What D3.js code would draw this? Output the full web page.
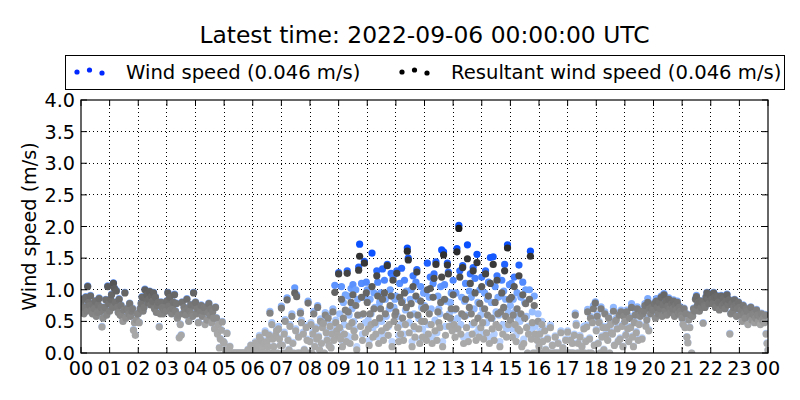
<!DOCTYPE html>
<html><head><meta charset="utf-8">
<script src="https://cdn.jsdelivr.net/npm/d3@7/dist/d3.min.js"></script>
<style>body{margin:0;background:#fff} svg{font-family:"DejaVu Sans",sans-serif;display:block}</style>
</head><body><svg id="c" width="800" height="400"></svg>
<script>
const titleText = "Latest time: 2022-09-06 00:00:00 UTC";
const yLabel = "Wind speed (m/s)";
const legendLabels = ["Wind speed (0.046 m/s)", "Resultant wind speed (0.046 m/s)"];
const hourTickLabels = ["00","01","02","03","04","05","06","07","08","09","10","11","12","13","14","15","16","17","18","19","20","21","22","23","00"];
const yTickValues = [0.0,0.5,1.0,1.5,2.0,2.5,3.0,3.5,4.0];
const sampleStepMinutes = 2;
const latestWind = 0.046, latestResultant = 0.046;

// Resultant wind speed (m/s), one row per hour, 2-minute samples
const resultantRows = [
[0.78,0.70,0.85,0.62,0.72,0.88,0.66,1.05,0.80,0.75,0.90,0.68,0.62,0.76,0.70,0.82,0.58,0.64,0.76,0.86,0.65,0.72,0.41,0.55,0.68,0.72,0.84,0.60,1.05,0.78],
[0.66,0.85,0.92,0.72,1.10,1.02,0.80,0.98,0.72,0.64,0.85,0.60,0.75,0.58,0.50,0.68,0.95,0.55,0.70,0.68,0.62,0.78,0.58,0.66,0.70,0.36,0.48,0.28,0.52,0.62],
[0.62,0.48,0.70,0.78,0.88,0.66,0.72,1.00,0.86,0.92,0.80,0.85,0.97,0.76,0.90,0.82,0.95,0.70,0.88,0.64,0.75,0.80,0.41,0.62,0.80,0.72,0.62,0.68,0.72,0.66],
[0.82,0.95,0.74,0.88,0.68,0.62,0.70,0.80,0.92,0.66,0.78,0.55,0.60,0.24,0.45,0.28,0.80,0.62,0.72,0.66,0.60,0.85,0.70,0.50,0.66,0.76,0.62,0.58,0.95,0.74],
[0.80,0.62,0.70,0.48,0.70,0.66,0.75,0.58,0.66,0.72,0.45,0.72,0.52,0.64,0.78,0.60,0.70,0.48,0.65,0.55,0.38,0.72,0.55,0.30,0.45,0.08,0.22,0.36,0.49,0.18],
[0.16,0.05,0.00,0.31,0.00,0.00,0.10,0.00,0.00,0.00,0.00,0.00,0.00,0.00,0.00,0.00,0.00,0.00,0.00,0.00,0.00,0.00,0.00,0.00,0.00,0.05,0.00,0.00,0.12,0.00],
[0.00,0.08,0.00,0.16,0.05,0.00,0.12,0.25,0.00,0.20,0.08,0.00,0.15,0.32,0.00,0.18,0.10,0.28,0.63,0.00,0.45,0.22,0.10,0.00,0.28,0.35,0.00,0.38,0.22,0.12],
[0.71,0.12,0.00,0.30,0.50,0.00,0.84,0.20,0.05,0.42,0.00,0.58,0.15,0.00,0.95,0.35,0.89,0.00,0.25,0.00,0.63,0.48,0.00,0.30,0.05,0.00,0.40,0.20,0.79,0.00],
[0.18,0.45,0.00,0.30,0.62,0.10,0.38,0.22,0.72,0.25,0.05,0.50,0.15,0.40,0.47,0.00,0.60,0.32,0.20,0.55,0.12,0.42,0.08,0.30,0.65,0.20,0.96,0.48,0.35,0.28],
[1.25,0.40,0.22,0.85,0.10,0.55,0.30,0.68,0.18,1.26,0.65,0.42,0.15,0.80,0.48,0.92,0.35,0.25,0.75,0.05,0.60,1.31,1.53,0.42,0.88,0.20,0.62,1.42,0.32,0.95],
[0.80,0.38,0.12,0.62,0.45,1.05,0.25,0.70,0.48,0.30,1.22,0.90,0.15,0.55,0.70,0.35,0.85,0.20,0.95,0.62,0.40,1.38,0.28,0.45,0.75,0.90,0.10,1.15,0.50,0.60],
[0.65,1.26,0.40,0.18,0.88,0.30,0.80,0.55,0.20,0.95,0.45,0.72,1.61,1.47,0.32,0.60,0.78,0.10,1.05,0.42,0.25,0.90,1.28,0.60,0.38,0.15,0.82,0.50,0.25,0.70],
[0.50,0.72,0.20,1.00,0.30,0.62,1.02,0.45,0.15,0.88,1.18,0.35,1.40,0.20,0.65,0.48,0.40,0.80,1.20,0.10,1.55,0.85,0.28,0.58,1.39,1.25,0.42,0.55,0.70,0.35],
[0.92,0.45,0.25,0.70,1.60,0.38,1.97,1.20,0.30,0.62,1.35,0.15,0.58,0.85,0.40,1.49,0.18,0.72,1.10,0.62,0.30,1.30,0.48,0.95,0.20,1.43,0.55,0.25,0.78,0.40],
[1.05,0.48,0.22,0.70,1.25,0.32,0.60,0.90,0.15,1.10,0.55,0.38,1.40,0.20,0.80,0.45,1.15,0.62,0.40,0.10,0.65,0.95,0.30,0.72,1.30,0.58,0.25,1.66,0.45,0.85],
[0.52,0.88,0.25,0.60,1.05,0.45,0.18,0.70,0.38,1.22,0.35,0.62,0.10,0.92,0.15,0.55,0.78,0.40,0.00,0.30,0.85,1.53,0.22,0.48,0.00,0.75,0.30,0.00,0.20,0.50],
[0.10,0.30,0.00,0.45,0.18,0.00,0.35,0.05,0.00,0.22,0.00,0.00,0.40,0.00,0.12,0.00,0.00,0.25,0.00,0.00,0.15,0.00,0.00,0.32,0.00,0.08,0.00,0.00,0.20,0.00],
[0.33,0.00,0.00,0.20,0.00,0.15,0.00,0.28,0.60,0.44,0.00,0.15,0.00,0.25,0.00,0.10,0.00,0.38,0.00,0.18,0.41,0.65,0.00,0.22,0.55,0.00,0.48,0.70,0.12,0.79],
[0.35,0.58,0.15,0.48,0.00,0.70,0.25,0.40,0.05,0.62,0.28,0.40,0.20,0.55,0.00,0.45,0.32,0.30,0.66,0.12,0.50,0.52,0.38,0.18,0.60,0.22,0.65,0.42,0.10,0.58],
[0.50,0.28,0.65,0.38,0.18,0.55,0.40,0.72,0.25,0.10,0.48,0.60,0.32,0.70,0.20,0.45,0.58,0.66,0.22,0.62,0.66,0.75,0.42,0.52,0.80,0.35,0.70,0.62,0.72,0.68],
[0.68,0.78,0.55,0.82,0.72,0.62,0.80,0.70,0.88,0.58,0.76,0.92,0.66,0.82,0.60,0.74,0.85,0.70,0.64,0.78,0.70,0.82,0.58,0.75,0.68,0.80,0.62,0.72,0.66,0.60],
[0.55,0.45,0.70,0.40,0.62,0.25,0.16,0.52,0.40,0.60,0.00,0.58,0.70,0.66,0.85,0.89,0.75,0.80,0.66,0.82,0.72,0.80,0.47,0.75,0.72,0.88,0.95,0.85,0.78,0.92],
[0.92,0.85,0.78,0.95,0.88,0.72,0.90,0.88,0.80,0.68,0.82,0.90,0.75,0.86,0.78,0.70,0.82,0.92,0.76,0.84,0.30,0.62,0.78,0.65,0.72,0.84,0.76,0.58,0.70,0.80],
[0.72,0.60,0.68,0.50,0.75,0.62,0.55,0.70,0.66,0.45,0.66,0.58,0.72,0.52,0.62,0.60,0.48,0.55,0.68,0.60,0.50,0.58,0.45,0.62,0.52,0.55,0.48,0.60,0.30,0.15]
];

// Scalar wind speed (m/s), one row per hour, 2-minute samples
const windSpeedRows = [
[0.79,0.71,0.86,0.63,0.73,0.89,0.67,1.06,0.81,0.76,0.91,0.69,0.63,0.77,0.71,0.83,0.59,0.65,0.77,0.87,0.66,0.73,0.42,0.56,0.69,0.73,0.85,0.61,1.06,0.79],
[0.67,0.86,0.93,0.73,1.11,1.03,0.81,0.99,0.73,0.65,0.86,0.61,0.76,0.59,0.51,0.69,0.96,0.56,0.71,0.69,0.63,0.79,0.59,0.67,0.71,0.37,0.49,0.29,0.53,0.63],
[0.63,0.49,0.71,0.79,0.89,0.67,0.73,1.01,0.87,0.93,0.81,0.86,0.98,0.77,0.91,0.83,0.96,0.71,0.89,0.65,0.76,0.81,0.42,0.63,0.81,0.73,0.63,0.69,0.73,0.67],
[0.83,0.96,0.75,0.89,0.69,0.63,0.71,0.81,0.93,0.67,0.79,0.56,0.61,0.25,0.46,0.29,0.81,0.63,0.73,0.67,0.61,0.86,0.71,0.51,0.67,0.77,0.63,0.59,0.96,0.75],
[0.81,0.63,0.71,0.49,0.71,0.67,0.76,0.59,0.67,0.73,0.46,0.73,0.53,0.65,0.79,0.61,0.71,0.49,0.66,0.56,0.39,0.73,0.56,0.31,0.46,0.09,0.23,0.37,0.50,0.19],
[0.17,0.06,0.00,0.32,0.00,0.00,0.11,0.00,0.00,0.00,0.00,0.00,0.00,0.00,0.00,0.00,0.00,0.00,0.00,0.00,0.00,0.00,0.00,0.00,0.00,0.06,0.00,0.00,0.13,0.00],
[0.00,0.09,0.00,0.18,0.06,0.00,0.13,0.28,0.00,0.22,0.09,0.00,0.16,0.35,0.00,0.20,0.11,0.30,0.66,0.00,0.48,0.24,0.11,0.00,0.30,0.38,0.00,0.42,0.24,0.13],
[0.74,0.13,0.00,0.33,0.53,0.00,0.87,0.22,0.06,0.45,0.00,0.62,0.17,0.00,1.03,0.38,0.92,0.00,0.27,0.00,0.66,0.52,0.00,0.33,0.06,0.00,0.43,0.22,0.82,0.00],
[0.20,0.48,0.00,0.33,0.66,0.11,0.41,0.24,0.75,0.27,0.06,0.54,0.16,0.43,0.50,0.00,0.64,0.35,0.22,0.60,0.13,0.45,0.09,0.33,0.70,0.22,1.07,0.52,0.38,0.30],
[1.27,0.62,0.35,1.05,0.18,0.80,0.45,0.92,0.28,1.30,0.90,0.60,0.25,1.02,0.70,1.08,0.50,0.38,1.00,0.10,0.85,1.36,1.72,0.60,1.10,0.30,0.88,1.45,0.48,1.12],
[1.00,0.52,0.20,0.85,0.62,1.58,0.40,0.95,0.72,0.45,1.30,1.12,0.25,0.80,0.95,0.50,1.33,0.30,1.15,0.85,0.58,1.40,0.42,0.70,1.00,1.26,0.18,1.20,0.72,0.85],
[0.90,1.30,0.58,0.28,1.10,0.45,1.34,0.82,0.30,1.15,0.68,0.98,1.66,1.50,0.48,0.85,1.00,0.18,1.22,0.62,0.38,1.12,1.32,0.85,0.55,0.22,1.05,0.72,0.38,0.95],
[0.75,0.95,0.30,1.42,0.45,0.88,1.20,0.70,0.25,1.10,1.25,0.52,1.44,0.32,0.90,0.70,0.62,1.05,1.63,0.18,1.60,1.08,0.42,0.82,1.42,1.28,0.62,0.80,0.95,0.52],
[1.15,0.68,0.38,0.95,1.65,0.55,2.02,1.30,0.45,0.88,1.38,0.25,0.82,1.10,0.60,1.71,0.28,0.98,1.25,0.88,0.45,1.35,0.70,1.18,0.32,1.56,0.80,0.38,1.00,0.60],
[1.20,0.70,0.32,0.95,1.30,0.48,0.85,1.12,0.25,1.51,0.80,0.55,1.52,0.30,1.05,0.65,1.22,0.88,0.60,0.18,0.90,1.15,0.45,0.98,1.40,0.85,0.38,1.71,0.65,1.08],
[0.75,1.10,0.38,0.85,1.20,0.65,0.28,0.95,0.55,1.39,0.50,0.88,0.16,1.12,0.22,0.80,1.00,0.58,0.00,0.42,1.00,1.61,0.35,0.65,0.00,0.90,0.42,0.00,0.28,0.62],
[0.12,0.34,0.00,0.50,0.20,0.00,0.38,0.06,0.00,0.24,0.00,0.00,0.44,0.00,0.13,0.00,0.00,0.27,0.00,0.00,0.17,0.00,0.00,0.35,0.00,0.09,0.00,0.00,0.22,0.00],
[0.35,0.00,0.00,0.22,0.00,0.17,0.00,0.30,0.63,0.47,0.00,0.17,0.00,0.28,0.00,0.11,0.00,0.42,0.00,0.20,0.44,0.69,0.00,0.24,0.58,0.00,0.52,0.75,0.13,0.81],
[0.37,0.61,0.16,0.50,0.00,0.73,0.27,0.42,0.06,0.65,0.30,0.42,0.22,0.58,0.00,0.48,0.34,0.32,0.72,0.13,0.53,0.55,0.40,0.20,0.64,0.24,0.68,0.44,0.11,0.61],
[0.52,0.30,0.68,0.40,0.19,0.58,0.42,0.78,0.27,0.11,0.50,0.63,0.34,0.73,0.22,0.47,0.61,0.69,0.24,0.65,0.69,0.78,0.44,0.55,0.86,0.37,0.73,0.65,0.75,0.71],
[0.70,0.80,0.57,0.86,0.74,0.64,0.82,0.72,0.90,0.60,0.78,0.94,0.68,0.84,0.62,0.76,0.87,0.72,0.66,0.80,0.72,0.84,0.60,0.77,0.70,0.82,0.64,0.74,0.68,0.62],
[0.56,0.46,0.71,0.41,0.63,0.26,0.17,0.53,0.41,0.61,0.00,0.59,0.71,0.67,0.86,0.91,0.76,0.81,0.67,0.83,0.73,0.81,0.48,0.76,0.73,0.89,0.96,0.86,0.79,0.93],
[0.93,0.86,0.79,0.96,0.89,0.73,0.91,0.89,0.81,0.69,0.83,0.91,0.76,0.87,0.79,0.71,0.83,0.93,0.77,0.85,0.31,0.63,0.79,0.66,0.73,0.85,0.77,0.59,0.71,0.81],
[0.73,0.61,0.69,0.51,0.76,0.63,0.56,0.71,0.67,0.46,0.67,0.59,0.73,0.53,0.63,0.61,0.49,0.56,0.69,0.61,0.51,0.59,0.46,0.63,0.53,0.56,0.49,0.61,0.31,0.16]
];

const margin = {left: 81, right: 32, top: 100, bottom: 47};
const W = 800, H = 400;
const svg = d3.select("#c");
const x = d3.scaleLinear().domain([0, 24]).range([margin.left, W - margin.right]);
const y = d3.scaleLinear().domain([0, 4]).range([H - margin.bottom, margin.top]);

function toPoints(rows, latest) {
  const pts = [];
  rows.forEach((row, h) => row.forEach((v, i) => pts.push({t: h + i * sampleStepMinutes / 60, v})));
  pts.push({t: 24, v: latest});
  return pts;
}
const windPts = toPoints(windSpeedRows, latestWind);
const resPts = toPoints(resultantRows, latestResultant);

const grayColor = d3.scaleLinear().domain([0, 0.45, 0.56, 0.8, 1.05, 1.35, 2.0])
  .range(["#acacac", "#a4a4a4", "#8a8a8a", "#737373", "#5a5a5a", "#3b3b3b", "#1a1a1a"]).clamp(true);
const blueColor = d3.scaleLinear().domain([0, 0.6, 1.0, 1.3, 1.6])
  .range(["#c4d9ff", "#9fc2ff", "#6b9fff", "#2b6bff", "#0a50ff"]).clamp(true);

// grid
const grid = svg.append("g");
grid.selectAll("line.gx").data(d3.range(1, 24)).join("line")
  .attr("x1", d => x(d)).attr("x2", d => x(d)).attr("y1", y(0)).attr("y2", y(4))
  .attr("stroke", "#000").attr("stroke-width", 1).attr("stroke-dasharray", "1,3").attr("shape-rendering", "crispEdges");
grid.selectAll("line.gy").data(yTickValues.slice(1, -1)).join("line")
  .attr("x1", x(0)).attr("x2", x(24)).attr("y1", d => y(d)).attr("y2", d => y(d))
  .attr("stroke", "#000").attr("stroke-width", 1).attr("stroke-dasharray", "1,3").attr("shape-rendering", "crispEdges");

svg.append("clipPath").attr("id", "clip").append("rect")
  .attr("x", x(0)).attr("y", y(4)).attr("width", x(24) - x(0)).attr("height", y(0) - y(4));

const pts = svg.append("g").attr("clip-path", "url(#clip)");
pts.selectAll("circle.w").data(windPts).join("circle").attr("class", "w")
  .attr("cx", d => x(d.t)).attr("cy", d => y(d.v)).attr("r", 3.6).attr("fill", d => blueColor(d.v));
pts.selectAll("circle.r").data(resPts).join("circle").attr("class", "r")
  .attr("cx", d => x(d.t)).attr("cy", d => y(d.v)).attr("r", 3.6).attr("fill", d => grayColor(d.v));

// frame
svg.append("rect").attr("x", x(0)).attr("y", y(4)).attr("width", x(24) - x(0)).attr("height", y(0) - y(4))
  .attr("fill", "none").attr("stroke", "#000").attr("stroke-width", 1.2);

// ticks (inward, all four sides)
const tl = 6;
const tk = svg.append("g").attr("stroke", "#000").attr("stroke-width", 1);
hourTickLabels.forEach((lab, i) => {
  tk.append("line").attr("x1", x(i)).attr("x2", x(i)).attr("y1", y(0)).attr("y2", y(0) - tl);
  tk.append("line").attr("x1", x(i)).attr("x2", x(i)).attr("y1", y(4)).attr("y2", y(4) + tl);
});
yTickValues.forEach(v => {
  tk.append("line").attr("x1", x(0)).attr("x2", x(0) + tl).attr("y1", y(v)).attr("y2", y(v));
  tk.append("line").attr("x1", x(24)).attr("x2", x(24) - tl).attr("y1", y(v)).attr("y2", y(v));
});

const fs = 19.2;
svg.append("g").selectAll("text").data(hourTickLabels).join("text")
  .attr("x", (d, i) => x(i)).attr("y", y(0) + 22).attr("text-anchor", "middle")
  .attr("font-size", fs).attr("fill", "#000").text(d => d);
svg.append("g").selectAll("text").data(yTickValues).join("text")
  .attr("x", x(0) - 6).attr("y", d => y(d) + 7).attr("text-anchor", "end")
  .attr("font-size", fs).attr("fill", "#000").text(d => d.toFixed(1));

svg.append("text").attr("transform", `translate(36,${(y(0) + y(4)) / 2}) rotate(-90)`)
  .attr("text-anchor", "middle").attr("font-size", fs).text(yLabel);

svg.append("text").attr("x", (x(0) + x(24)) / 2).attr("y", 43).attr("text-anchor", "middle")
  .attr("font-size", 23.4).text(titleText);

// legend
const lg = svg.append("g");
lg.append("rect").attr("x", 65.5).attr("y", 55.5).attr("width", 719).attr("height", 34)
  .attr("fill", "#fff").attr("stroke", "#000").attr("stroke-width", 1);
const dotOffsets = [0.375, 0.5, 0.3125];
const legendItems = [{x0: 77, color: "#0028ff", tx: 126}, {x0: 402, color: "#000", tx: 451}];
legendItems.forEach((it, k) => {
  dotOffsets.forEach((o, j) => {
    lg.append("circle").attr("cx", it.x0 + j * 12.5).attr("cy", 78 - o * 16).attr("r", 2.6).attr("fill", it.color);
  });
  lg.append("text").attr("x", it.tx).attr("y", 79).attr("font-size", 19.6).text(legendLabels[k]);
});
</script></body></html>
